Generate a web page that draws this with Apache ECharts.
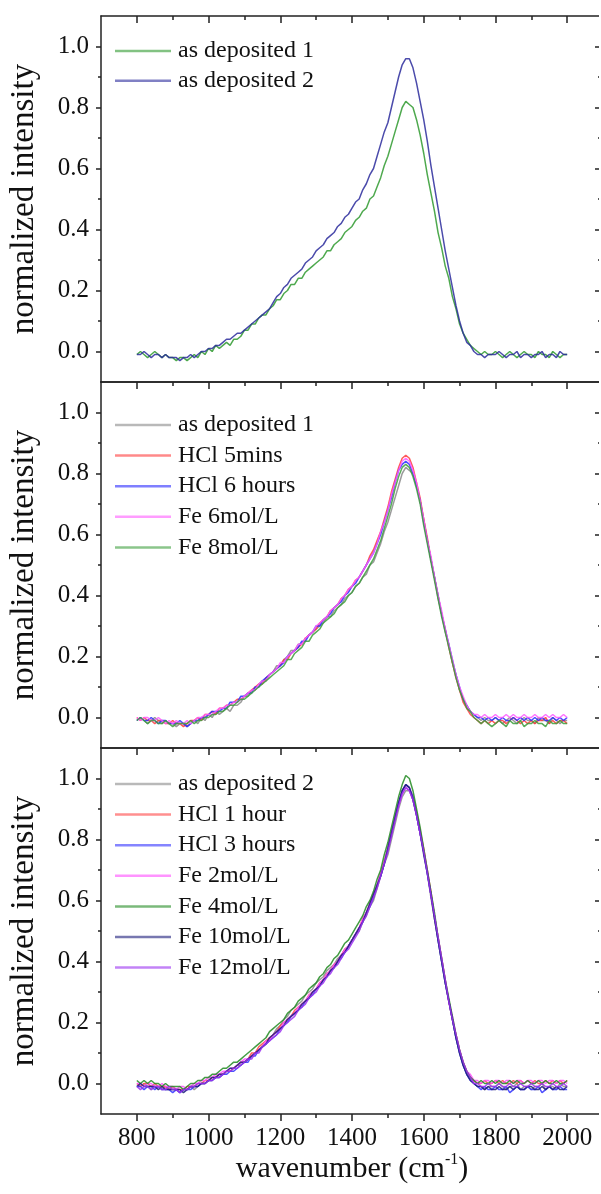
<!DOCTYPE html>
<html><head><meta charset="utf-8">
<script src="https://cdn.jsdelivr.net/npm/echarts@6/dist/echarts.min.js"></script>
<style>html,body{margin:0;padding:0;background:#fff;overflow:hidden}#c{width:601px;height:1194px}</style>
</head><body><div id="c"></div>
<script>
// sampling grid (cm^-1), 800..2000 every 10
const wavenumber = [];
for (let w = 800; w <= 2000; w += 10) wavenumber.push(w);

const xMajorTicks = [800, 1000, 1200, 1400, 1600, 1800, 2000];
const xMinorTicks = [900, 1100, 1300, 1500, 1700, 1900];
const yMajorTicks = [0, 0.2, 0.4, 0.6, 0.8, 1.0];
const yMinorTicks = [0.1, 0.3, 0.5, 0.7, 0.9];

const asDeposited1 = [
-0.01,0.00,-0.01,-0.02,-0.01,0.00,-0.01,-0.02,-0.01,-0.02,
-0.02,-0.03,-0.02,-0.02,-0.03,-0.02,-0.01,-0.02,0.00,-0.01,
0.01,0.00,0.02,0.01,0.02,0.03,0.02,0.04,0.04,0.05,
0.07,0.07,0.09,0.09,0.11,0.12,0.12,0.14,0.15,0.17,
0.17,0.19,0.20,0.22,0.22,0.24,0.24,0.26,0.27,0.28,
0.29,0.30,0.31,0.33,0.33,0.35,0.36,0.37,0.39,0.40,
0.41,0.43,0.44,0.46,0.47,0.50,0.51,0.54,0.57,0.61,
0.64,0.68,0.72,0.76,0.80,0.82,0.81,0.80,0.76,0.71,
0.65,0.58,0.52,0.46,0.39,0.34,0.28,0.24,0.18,0.14,
0.09,0.06,0.04,0.02,0.01,0.00,-0.01,0.00,-0.01,-0.01,
0.00,-0.01,-0.02,-0.01,0.00,-0.01,-0.02,-0.01,0.00,-0.01,
-0.01,-0.02,0.00,-0.01,-0.01,-0.02,0.00,-0.01,-0.02,-0.01,
-0.01];

const asDeposited2 = [
-0.01,-0.01,0.00,-0.01,-0.02,-0.01,-0.01,-0.02,-0.01,-0.02,
-0.02,-0.02,-0.03,-0.02,-0.02,-0.01,-0.02,-0.01,0.00,0.00,
0.01,0.01,0.02,0.02,0.03,0.04,0.04,0.05,0.06,0.06,
0.07,0.08,0.09,0.10,0.11,0.12,0.13,0.14,0.16,0.18,
0.19,0.21,0.22,0.24,0.25,0.26,0.27,0.29,0.30,0.31,
0.33,0.34,0.35,0.37,0.38,0.39,0.41,0.42,0.44,0.45,
0.47,0.49,0.50,0.53,0.55,0.58,0.60,0.64,0.68,0.72,
0.75,0.80,0.85,0.90,0.94,0.96,0.96,0.93,0.88,0.82,
0.76,0.69,0.61,0.54,0.47,0.40,0.33,0.27,0.21,0.15,
0.10,0.06,0.03,0.02,0.00,-0.01,-0.01,-0.02,-0.01,-0.01,
-0.01,0.00,-0.01,-0.02,-0.01,-0.01,0.00,-0.02,-0.01,-0.01,
-0.02,-0.01,-0.01,0.00,-0.02,-0.01,-0.01,-0.02,0.00,-0.01,
-0.01];

const hcl5mins = [
0.00,-0.01,0.00,-0.01,-0.01,-0.02,-0.01,-0.01,-0.02,-0.02,
-0.01,-0.02,-0.02,-0.03,-0.02,-0.01,-0.01,0.00,-0.01,0.01,
0.01,0.02,0.01,0.03,0.03,0.04,0.04,0.05,0.06,0.06,
0.07,0.08,0.09,0.10,0.11,0.11,0.13,0.14,0.15,0.16,
0.17,0.19,0.19,0.21,0.22,0.23,0.24,0.26,0.27,0.28,
0.29,0.31,0.32,0.33,0.35,0.36,0.37,0.39,0.40,0.42,
0.43,0.45,0.46,0.48,0.50,0.53,0.55,0.58,0.61,0.65,
0.69,0.74,0.78,0.82,0.85,0.86,0.85,0.82,0.77,0.72,
0.65,0.59,0.52,0.46,0.40,0.34,0.29,0.23,0.18,0.13,
0.09,0.05,0.03,0.01,0.00,-0.01,-0.02,-0.01,-0.02,-0.01,
-0.02,-0.01,-0.01,-0.02,-0.01,0.00,-0.01,-0.02,-0.01,-0.02,
-0.01,-0.02,-0.01,-0.01,0.00,-0.02,-0.01,-0.02,-0.01,-0.01,
-0.02];

const hcl6hours = [
-0.01,0.00,-0.01,-0.01,0.00,-0.01,-0.02,-0.01,-0.01,-0.02,
-0.02,-0.02,-0.01,-0.02,-0.03,-0.02,-0.01,-0.01,0.00,0.00,
0.01,0.02,0.02,0.02,0.03,0.03,0.05,0.05,0.05,0.07,
0.07,0.08,0.08,0.10,0.10,0.12,0.13,0.14,0.15,0.16,
0.17,0.18,0.20,0.21,0.22,0.23,0.25,0.25,0.27,0.28,
0.30,0.30,0.32,0.33,0.34,0.36,0.37,0.38,0.40,0.41,
0.43,0.44,0.46,0.48,0.50,0.52,0.54,0.57,0.60,0.64,
0.68,0.72,0.77,0.81,0.83,0.84,0.83,0.80,0.76,0.71,
0.64,0.58,0.52,0.46,0.40,0.34,0.29,0.24,0.19,0.14,
0.10,0.06,0.04,0.02,0.01,0.00,0.00,-0.01,0.00,-0.01,
0.00,-0.01,0.00,-0.01,-0.01,0.00,-0.01,0.00,-0.01,0.00,
-0.01,0.00,-0.01,0.00,-0.01,-0.01,0.00,-0.01,0.00,-0.01,
0.00];

const fe6mol = [
0.00,-0.01,0.00,0.00,-0.01,-0.01,0.00,-0.01,-0.02,-0.01,
-0.02,-0.01,-0.02,-0.02,-0.01,-0.02,-0.01,0.00,0.00,0.01,
0.01,0.01,0.02,0.03,0.03,0.04,0.04,0.05,0.05,0.06,
0.07,0.08,0.09,0.09,0.11,0.12,0.12,0.14,0.15,0.16,
0.18,0.18,0.20,0.21,0.22,0.24,0.24,0.26,0.27,0.28,
0.30,0.31,0.32,0.33,0.35,0.36,0.37,0.39,0.40,0.42,
0.43,0.45,0.46,0.48,0.50,0.52,0.54,0.57,0.61,0.64,
0.68,0.73,0.77,0.81,0.84,0.85,0.84,0.81,0.77,0.71,
0.65,0.58,0.53,0.46,0.40,0.35,0.29,0.24,0.19,0.14,
0.10,0.07,0.04,0.02,0.01,0.01,0.00,0.01,0.00,0.00,
0.01,0.00,0.00,0.01,0.00,0.01,0.00,0.00,0.01,0.00,
0.00,0.01,0.00,0.00,0.01,0.00,0.01,0.00,0.00,0.01,
0.00];

const fe8mol = [
-0.01,0.00,-0.01,-0.02,-0.01,-0.01,-0.02,-0.02,-0.01,-0.02,
-0.03,-0.02,-0.02,-0.02,-0.02,-0.01,-0.02,-0.01,-0.01,0.00,
0.00,0.01,0.01,0.02,0.02,0.03,0.04,0.04,0.05,0.06,
0.06,0.07,0.08,0.09,0.10,0.11,0.12,0.13,0.14,0.15,
0.16,0.17,0.19,0.19,0.21,0.22,0.23,0.25,0.25,0.27,
0.28,0.29,0.31,0.32,0.33,0.34,0.36,0.37,0.38,0.40,
0.41,0.43,0.44,0.46,0.48,0.50,0.52,0.55,0.58,0.62,
0.66,0.70,0.75,0.79,0.82,0.83,0.82,0.79,0.75,0.70,
0.63,0.57,0.51,0.45,0.39,0.33,0.28,0.23,0.18,0.13,
0.09,0.06,0.03,0.02,0.00,-0.01,-0.02,-0.01,-0.02,-0.03,
-0.02,-0.01,-0.02,-0.03,-0.01,-0.02,-0.02,-0.01,-0.03,-0.02,
-0.02,-0.01,-0.02,-0.02,-0.03,-0.01,-0.02,-0.02,-0.01,-0.02,
-0.02];

const hcl1hour = [
0.00,-0.01,0.00,0.00,-0.01,0.00,-0.01,-0.01,-0.01,-0.02,
-0.01,-0.02,-0.02,-0.02,-0.01,-0.01,-0.01,0.00,0.00,0.01,
0.01,0.02,0.02,0.03,0.03,0.04,0.04,0.05,0.06,0.07,
0.07,0.08,0.10,0.10,0.12,0.13,0.14,0.15,0.16,0.17,
0.19,0.20,0.21,0.22,0.24,0.25,0.26,0.27,0.29,0.30,
0.31,0.33,0.34,0.36,0.37,0.39,0.40,0.42,0.44,0.45,
0.47,0.49,0.51,0.54,0.56,0.59,0.62,0.65,0.69,0.73,
0.77,0.82,0.87,0.92,0.96,0.98,0.97,0.94,0.89,0.83,
0.77,0.70,0.63,0.55,0.48,0.41,0.34,0.27,0.21,0.16,
0.11,0.07,0.04,0.02,0.01,0.00,0.00,0.01,0.00,0.00,
0.01,0.00,0.01,0.00,0.00,0.01,0.00,0.01,0.00,0.01,
0.00,0.01,0.00,0.00,0.01,0.00,0.01,0.00,0.01,0.00,
0.01];

const hcl3hours = [
-0.01,-0.01,-0.02,-0.01,-0.01,-0.02,-0.01,-0.02,-0.02,-0.02,
-0.03,-0.02,-0.03,-0.02,-0.02,-0.02,-0.01,-0.01,0.00,0.00,
0.01,0.01,0.02,0.02,0.03,0.03,0.04,0.04,0.05,0.06,
0.07,0.07,0.09,0.09,0.11,0.12,0.13,0.14,0.15,0.16,
0.18,0.19,0.20,0.22,0.23,0.24,0.25,0.27,0.28,0.29,
0.31,0.32,0.34,0.35,0.37,0.38,0.40,0.41,0.43,0.45,
0.47,0.49,0.51,0.53,0.56,0.58,0.61,0.65,0.68,0.72,
0.77,0.82,0.87,0.92,0.96,0.98,0.97,0.94,0.88,0.82,
0.76,0.69,0.62,0.55,0.47,0.40,0.33,0.27,0.21,0.15,
0.10,0.06,0.03,0.01,0.00,-0.01,-0.02,-0.01,-0.02,-0.02,
-0.01,-0.02,-0.02,-0.01,-0.03,-0.02,-0.01,-0.02,-0.02,-0.01,
-0.02,-0.02,-0.01,-0.03,-0.02,-0.01,-0.02,-0.02,-0.01,-0.02,
-0.02];

const fe2mol = [
0.00,0.00,-0.01,0.00,0.00,-0.01,-0.01,0.00,-0.01,-0.01,
-0.01,-0.02,-0.01,-0.01,-0.02,-0.01,0.00,0.00,0.01,0.01,
0.02,0.02,0.03,0.03,0.04,0.04,0.05,0.05,0.06,0.07,
0.08,0.08,0.09,0.10,0.11,0.12,0.14,0.14,0.16,0.17,
0.18,0.20,0.21,0.22,0.23,0.25,0.26,0.27,0.29,0.30,
0.31,0.33,0.34,0.36,0.37,0.39,0.40,0.42,0.44,0.45,
0.47,0.49,0.51,0.54,0.56,0.59,0.62,0.65,0.69,0.73,
0.77,0.82,0.87,0.91,0.95,0.97,0.96,0.93,0.88,0.82,
0.76,0.70,0.62,0.55,0.48,0.41,0.34,0.27,0.22,0.16,
0.11,0.07,0.04,0.03,0.01,0.01,0.00,0.01,0.01,0.00,
0.01,0.01,0.00,0.01,0.01,0.00,0.01,0.01,0.00,0.01,
0.01,0.00,0.01,0.01,0.00,0.01,0.01,0.00,0.01,0.01,
0.00];

const fe4mol = [
0.01,0.00,0.01,0.00,0.01,0.00,0.00,-0.01,0.00,-0.01,
-0.01,-0.01,-0.01,-0.02,-0.01,0.00,0.00,0.01,0.01,0.02,
0.02,0.03,0.03,0.04,0.05,0.05,0.06,0.07,0.07,0.08,
0.09,0.10,0.11,0.12,0.13,0.14,0.15,0.17,0.18,0.19,
0.20,0.21,0.23,0.24,0.25,0.27,0.28,0.29,0.31,0.32,
0.33,0.35,0.36,0.38,0.39,0.41,0.42,0.44,0.46,0.47,
0.49,0.51,0.53,0.55,0.58,0.60,0.63,0.67,0.70,0.75,
0.79,0.84,0.89,0.94,0.98,1.01,1.00,0.96,0.90,0.84,
0.77,0.70,0.63,0.56,0.48,0.41,0.34,0.28,0.22,0.16,
0.11,0.07,0.04,0.02,0.01,0.00,0.01,0.00,0.00,0.01,
0.00,0.01,0.00,0.00,0.01,0.00,0.01,0.00,0.00,0.01,
0.00,0.00,0.01,0.00,0.01,0.00,0.00,0.01,0.00,0.00,
0.01];

const fe10mol = [
-0.01,0.00,-0.01,-0.01,-0.01,-0.01,-0.02,-0.01,-0.02,-0.02,
-0.02,-0.02,-0.02,-0.03,-0.02,-0.01,-0.01,-0.01,0.00,0.00,
0.01,0.02,0.02,0.03,0.03,0.04,0.05,0.05,0.06,0.07,
0.07,0.08,0.09,0.10,0.11,0.12,0.13,0.15,0.16,0.17,
0.18,0.19,0.21,0.22,0.23,0.24,0.26,0.27,0.28,0.30,
0.31,0.32,0.34,0.35,0.37,0.38,0.40,0.42,0.43,0.45,
0.47,0.49,0.51,0.53,0.56,0.59,0.62,0.65,0.68,0.72,
0.77,0.82,0.87,0.92,0.96,0.98,0.97,0.93,0.88,0.82,
0.75,0.69,0.62,0.54,0.47,0.40,0.33,0.27,0.21,0.15,
0.10,0.06,0.03,0.01,0.00,-0.01,-0.01,-0.02,-0.01,-0.02,
-0.02,-0.01,-0.02,-0.02,-0.01,-0.02,-0.01,-0.02,-0.02,-0.01,
-0.01,-0.02,-0.02,-0.01,-0.02,-0.01,-0.02,-0.01,-0.02,-0.02,
-0.01];

const fe12mol = [
-0.01,-0.02,-0.01,-0.01,-0.02,-0.01,-0.01,-0.02,-0.02,-0.01,
-0.02,-0.02,-0.03,-0.02,-0.02,-0.01,-0.01,0.00,0.00,0.00,
0.01,0.01,0.02,0.02,0.03,0.04,0.04,0.05,0.05,0.06,
0.07,0.08,0.08,0.10,0.10,0.12,0.13,0.14,0.15,0.16,
0.17,0.19,0.20,0.21,0.22,0.24,0.25,0.26,0.28,0.29,
0.30,0.32,0.33,0.35,0.36,0.38,0.39,0.41,0.43,0.44,
0.46,0.48,0.50,0.53,0.55,0.58,0.61,0.64,0.68,0.72,
0.76,0.81,0.86,0.91,0.95,0.97,0.96,0.93,0.88,0.82,
0.76,0.69,0.62,0.55,0.48,0.41,0.34,0.27,0.21,0.16,
0.11,0.07,0.04,0.02,0.00,0.00,-0.01,-0.01,0.00,-0.01,
-0.01,0.00,-0.01,-0.01,0.00,-0.01,-0.01,0.00,-0.01,-0.01,
0.00,-0.01,-0.01,0.00,-0.01,-0.01,0.00,-0.01,-0.01,0.00,
-0.01];

const panels = [
  [
    { name: 'as deposited 1', data: asDeposited1, color: '#2f9a2f' },
    { name: 'as deposited 2', data: asDeposited2, color: '#2b2b9c' }
  ],
  [
    { name: 'as deposited 1', data: asDeposited1, color: '#8a8a8a' },
    { name: 'HCl 5mins', data: hcl5mins, color: '#ff3b3b' },
    { name: 'HCl 6 hours', data: hcl6hours, color: '#2a2aff' },
    { name: 'Fe 6mol/L', data: fe6mol, color: '#ff5cff' },
    { name: 'Fe 8mol/L', data: fe8mol, color: '#3d9e3d' }
  ],
  [
    { name: 'as deposited 2', data: asDeposited2, color: '#8a8a8a' },
    { name: 'HCl 1 hour', data: hcl1hour, color: '#ff4444' },
    { name: 'HCl 3 hours', data: hcl3hours, color: '#3333ff' },
    { name: 'Fe 2mol/L', data: fe2mol, color: '#ff4dff' },
    { name: 'Fe 4mol/L', data: fe4mol, color: '#228b22' },
    { name: 'Fe 10mol/L', data: fe10mol, color: '#1c1c7c' },
    { name: 'Fe 12mol/L', data: fe12mol, color: '#9a30f0' }
  ]
];

const FONT = 'Liberation Serif';
const AX = '#222';
const gridTops = [16, 382, 748];
const legendTops = [33, 407, 766];
const legendGaps = [3.7, 4.6, 4.6];
const PH = 366;
const PW = 502;

const grids = [], xAxes = [], yAxes = [], series = [], legends = [];
panels.forEach((panel, p) => {
  grids.push({ left: 101, top: gridTops[p], width: PW, height: PH, outerBoundsMode: 'none', containLabel: false });
  const isLast = p === panels.length - 1;
  const base = { type: 'value', gridIndex: p, min: 700, max: 2100, interval: 100, splitLine: { show: false } };
  const xMainIndex = xAxes.length;
  xAxes.push(Object.assign({}, base, {
    position: 'bottom',
    axisLine: { show: true, onZero: false, lineStyle: { color: AX, width: 1.5 } },
    axisTick: { show: true, inside: false, length: 7, customValues: xMajorTicks, lineStyle: { color: AX, width: 1.5 } },
    axisLabel: { show: isLast, customValues: xMajorTicks, margin: 12, fontFamily: FONT, fontSize: 25, color: '#111',
      formatter: v => String(v) },
    name: isLast ? 'wavenumber (cm{sup|-1})' : '',
    nameLocation: 'middle', nameGap: 38,
    nameTextStyle: { fontFamily: FONT, fontSize: 30, color: '#111', lineHeight: 34,
      rich: { sup: { fontFamily: FONT, fontSize: 16, color: '#111', verticalAlign: 'top', lineHeight: 18 } } }
  }));
  xAxes.push(Object.assign({}, base, {
    position: 'bottom',
    axisLine: { show: false, onZero: false },
    axisTick: { show: true, inside: false, length: 4, customValues: xMinorTicks, lineStyle: { color: AX, width: 1.5 } },
    axisLabel: { show: false }
  }));
  xAxes.push(Object.assign({}, base, {
    position: 'top',
    axisLine: { show: true, onZero: false, lineStyle: { color: AX, width: 1.5 } },
    axisTick: { show: true, inside: true, length: 7, customValues: xMajorTicks, lineStyle: { color: AX, width: 1.5 } },
    axisLabel: { show: false }
  }));
  xAxes.push(Object.assign({}, base, {
    position: 'top',
    axisLine: { show: false, onZero: false },
    axisTick: { show: true, inside: true, length: 4, customValues: xMinorTicks, lineStyle: { color: AX, width: 1.5 } },
    axisLabel: { show: false }
  }));

  const ybase = { type: 'value', gridIndex: p, min: -0.1, max: 1.1, interval: 0.1, splitLine: { show: false },
    position: 'left' };
  const yMainIndex = yAxes.length;
  yAxes.push(Object.assign({}, ybase, {
    axisLine: { show: true, onZero: false, lineStyle: { color: AX, width: 1.5 } },
    axisTick: { show: true, inside: false, length: 5, customValues: yMajorTicks, lineStyle: { color: AX, width: 1.5 } },
    axisLabel: { show: true, customValues: yMajorTicks, margin: 12, fontFamily: FONT, fontSize: 25, color: '#111',
      formatter: v => Number(v).toFixed(1) },
    name: 'normalized intensity', nameLocation: 'middle', nameGap: 60, nameRotate: 90,
    nameTextStyle: { fontFamily: FONT, fontSize: 33, color: '#111' }
  }));
  yAxes.push(Object.assign({}, ybase, {
    axisLine: { show: false, onZero: false },
    axisTick: { show: true, inside: false, length: 3, customValues: yMinorTicks, lineStyle: { color: AX, width: 1.5 } },
    axisLabel: { show: false }
  }));
  // right frame ticks: left-type axes shifted to the right edge, ticks pointing into the plot
  yAxes.push(Object.assign({}, ybase, {
    offset: -PW,
    axisLine: { show: false, onZero: false },
    axisTick: { show: true, inside: false, length: 8, customValues: yMajorTicks, lineStyle: { color: AX, width: 1.5 } },
    axisLabel: { show: false }
  }));
  yAxes.push(Object.assign({}, ybase, {
    offset: -PW,
    axisLine: { show: false, onZero: false },
    axisTick: { show: true, inside: false, length: 5, customValues: yMinorTicks, lineStyle: { color: AX, width: 1.5 } },
    axisLabel: { show: false }
  }));

  panel.forEach(s => {
    series.push({
      name: s.name, type: 'line', xAxisIndex: xMainIndex, yAxisIndex: yMainIndex,
      data: wavenumber.map((w, i) => [w, s.data[i]]),
      symbol: 'none', showSymbol: false, color: s.color,
      lineStyle: { width: 1.5, color: s.color, opacity: 0.85 },
      silent: true
    });
  });

  legends.push({
    data: panel.map(s => ({ name: s.name, icon: 'rect', itemStyle: { color: s.color, opacity: 0.6 } })),
    orient: 'vertical', left: 110, top: legendTops[p],
    itemWidth: 56, itemHeight: 2.5, itemGap: legendGaps[p],
    selectedMode: false,
    textStyle: { fontFamily: FONT, fontSize: 24, color: '#111', lineHeight: 26, padding: [0, 0, 0, 2] }
  });
});

const chart = echarts.init(document.getElementById('c'), null, { renderer: 'canvas' });
chart.setOption({
  animation: false,
  backgroundColor: '#fff',
  grid: grids, xAxis: xAxes, yAxis: yAxes, series: series, legend: legends,
  // white strip masking the outermost column at the right page edge (frame lies outside the page)
  graphic: [{ type: 'rect', silent: true, z: 1000,
    shape: { x: 599, y: 0, width: 3, height: 1194 }, style: { fill: '#fff' } }]
});
</script>
</body></html>
